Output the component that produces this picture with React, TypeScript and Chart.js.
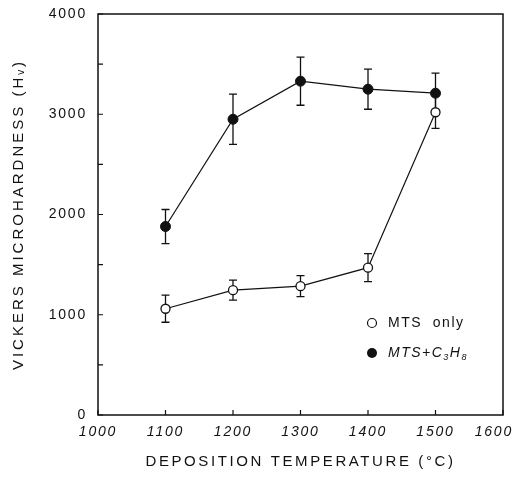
import { useEffect, useRef } from 'react';
import { Chart, registerables } from 'chart.js';

Chart.register(...registerables);

// ---- data ----
const temperatures = [1100, 1200, 1300, 1400, 1500];
const mtsOnly = [1060, 1245, 1285, 1470, 3020];
const mtsOnlyErr = [135, 100, 105, 140, 160];
const mtsC3H8 = [1880, 2950, 3330, 3250, 3210];
const mtsC3H8Err = [170, 250, 240, 200, 200];

const xMin = 1000;
const xMax = 1600;
const xStep = 100;
const yMin = 0;
const yMax = 4000;
const yStep = 500;
const yLabelStep = 1000;

const xTitle = 'DEPOSITION TEMPERATURE (°C)';
const yTitle = 'VICKERS MICROHARDNESS (Hᵥ)';
const legendOpen = 'MTS  only';

const INK = '#111111';
const FAMILY = '"Liberation Sans", Arial, Helvetica, sans-serif';

const errorsByDataset = [mtsOnlyErr, mtsC3H8Err];

const spacingPlugin = {
  id: 'spacing',
  afterUpdate(chart: any) {
    Object.values(chart.scales).forEach((s: any) => {
      if (s.__patched) return;
      s.__patched = true;
      const dt = s.drawTitle.bind(s);
      const dl = s.drawLabels.bind(s);
      s.drawTitle = (...a: any[]) => {
        const c = s.ctx;
        c.save();
        c.letterSpacing = s.axis === 'y' ? '3px' : '2.6px';
        dt(...a);
        c.restore();
      };
      s.drawLabels = (...a: any[]) => {
        const c = s.ctx;
        if (s.axis === 'x' && typeof s.getLabelItems === 'function') {
          // keep the last tick label inside the canvas
          const items = s.getLabelItems();
          const last = items && items[items.length - 1];
          if (last && last.options && last.options.translation) {
            const half = c.measureText ? 0 : 0;
            void half;
            c.save();
            c.font = last.font.string;
            c.letterSpacing = '1.8px';
            const w = c.measureText(last.label).width;
            c.restore();
            const maxX = s.chart.width - 1 - w / 2;
            if (last.options.translation[0] > maxX) last.options.translation[0] = maxX;
          }
        }
        c.save();
        c.letterSpacing = '1.8px';
        dl(...a);
        c.restore();
      };
    });
  },
};

const errorBarPlugin = {
  id: 'errorBars',
  beforeDatasetsDraw(chart: any) {
    const { ctx } = chart;
    const xs = chart.scales.x;
    const ys = chart.scales.y;
    ctx.save();
    ctx.strokeStyle = INK;
    ctx.lineWidth = 1.3;
    chart.data.datasets.forEach((ds: any, di: number) => {
      const errs = errorsByDataset[di];
      ds.data.forEach((p: any, i: number) => {
        const e = errs[i];
        const px = xs.getPixelForValue(p.x);
        const top = ys.getPixelForValue(p.y + e);
        const bot = ys.getPixelForValue(p.y - e);
        const cap = 4;
        ctx.beginPath();
        ctx.moveTo(px, top);
        ctx.lineTo(px, bot);
        ctx.moveTo(px - cap, top);
        ctx.lineTo(px + cap, top);
        ctx.moveTo(px - cap, bot);
        ctx.lineTo(px + cap, bot);
        ctx.stroke();
      });
    });
    ctx.restore();
  },
};

const framePlugin = {
  id: 'frame',
  afterDraw(chart: any) {
    const { ctx, chartArea: a } = chart;
    const xs = chart.scales.x;
    const ys = chart.scales.y;
    ctx.save();
    ctx.strokeStyle = INK;
    ctx.lineWidth = 1.5;
    ctx.strokeRect(a.left, a.top, a.right - a.left, a.bottom - a.top);
    // inward tick marks
    ctx.lineWidth = 1.2;
    ctx.beginPath();
    xs.ticks.forEach((t: any) => {
      const px = xs.getPixelForValue(t.value);
      ctx.moveTo(px, a.bottom);
      ctx.lineTo(px, a.bottom - 5);
    });
    ys.ticks.forEach((t: any) => {
      const py = ys.getPixelForValue(t.value);
      ctx.moveTo(a.left, py);
      ctx.lineTo(a.left + 5, py);
    });
    ctx.stroke();

    // legend
    const lx = a.left + 274;
    const ly1 = a.top + 309;
    const ly2 = a.top + 339;
    ctx.lineWidth = 1.2;
    ctx.beginPath();
    ctx.arc(lx, ly1, 4.5, 0, Math.PI * 2);
    ctx.fillStyle = '#ffffff';
    ctx.fill();
    ctx.stroke();
    ctx.beginPath();
    ctx.arc(lx, ly2, 5, 0, Math.PI * 2);
    ctx.fillStyle = INK;
    ctx.fill();

    ctx.fillStyle = INK;
    ctx.textBaseline = 'middle';
    ctx.textAlign = 'left';
    (ctx as any).letterSpacing = '1.5px';
    ctx.font = `14px ${FAMILY}`;
    ctx.fillText(legendOpen, lx + 16, ly1);

    let tx = lx + 16;
    const big = `italic 14px ${FAMILY}`;
    const small = `italic 9px ${FAMILY}`;
    const parts: [string, string, number][] = [
      ['MTS+C', big, 0],
      ['3', small, 4],
      ['H', big, 0],
      ['8', small, 4],
    ];
    parts.forEach(([s, f, dy]) => {
      ctx.font = f;
      ctx.fillText(s, tx, ly2 + dy);
      tx += ctx.measureText(s).width;
    });
    ctx.restore();
  },
};

export default function App() {
  const ref = useRef<HTMLCanvasElement | null>(null);

  useEffect(() => {
    if (!ref.current) return;
    const chart = new Chart(ref.current, {
      type: 'line',
      data: {
        datasets: [
          {
            label: 'MTS only',
            data: temperatures.map((t, i) => ({ x: t, y: mtsOnly[i] })),
            borderColor: INK,
            borderWidth: 1.2,
            pointRadius: 4.5,
            pointBorderWidth: 1.3,
            pointBackgroundColor: '#ffffff',
            pointBorderColor: INK,
            fill: false,
            tension: 0,
          },
          {
            label: 'MTS+C3H8',
            data: temperatures.map((t, i) => ({ x: t, y: mtsC3H8[i] })),
            borderColor: INK,
            borderWidth: 1.2,
            pointRadius: 5,
            pointBorderWidth: 1,
            pointBackgroundColor: INK,
            pointBorderColor: INK,
            fill: false,
            tension: 0,
          },
        ],
      },
      options: {
        animation: false,
        responsive: true,
        maintainAspectRatio: false,
        layout: { padding: { top: 5, right: 11, left: 0, bottom: 0 } },
        plugins: {
          legend: { display: false },
          tooltip: { enabled: false },
        },
        scales: {
          x: {
            type: 'linear',
            min: xMin,
            max: xMax,
            grid: { display: false, drawTicks: false },
            border: { display: false },
            ticks: {
              stepSize: xStep,
              autoSkip: false,
              maxRotation: 0,
              padding: 9,
              color: INK,
              font: { family: FAMILY, size: 14, style: 'italic' },
              callback: (v: any) => String(v),
            },
            title: {
              display: true,
              text: xTitle,
              color: INK,
              font: { family: FAMILY, size: 15 },
              padding: { top: 0, bottom: 1 },
            },
            afterFit: (s: any) => {
              s.height = 57;
              s.paddingLeft = 0;
              s.paddingRight = 0;
            },
          },
          y: {
            min: yMin,
            max: yMax,
            grid: { display: false, drawTicks: false },
            border: { display: false },
            ticks: {
              stepSize: yStep,
              autoSkip: false,
              padding: 11,
              color: INK,
              font: { family: FAMILY, size: 14 },
              callback: (v: any) => (Number(v) % yLabelStep === 0 ? String(v) : ''),
            },
            title: {
              display: true,
              text: yTitle,
              color: INK,
              font: { family: FAMILY, size: 15 },
              padding: { top: 2, bottom: 0 },
            },
            afterFit: (s: any) => {
              s.width = 90;
              s.paddingTop = 0;
              s.paddingBottom = 0;
            },
          },
        },
      },
      plugins: [spacingPlugin, errorBarPlugin, framePlugin],
    } as any);
    return () => chart.destroy();
  }, []);

  return (
    <div style={{ position: 'relative', width: 506, height: 464 }}>
      <canvas ref={ref} />
    </div>
  );
}
